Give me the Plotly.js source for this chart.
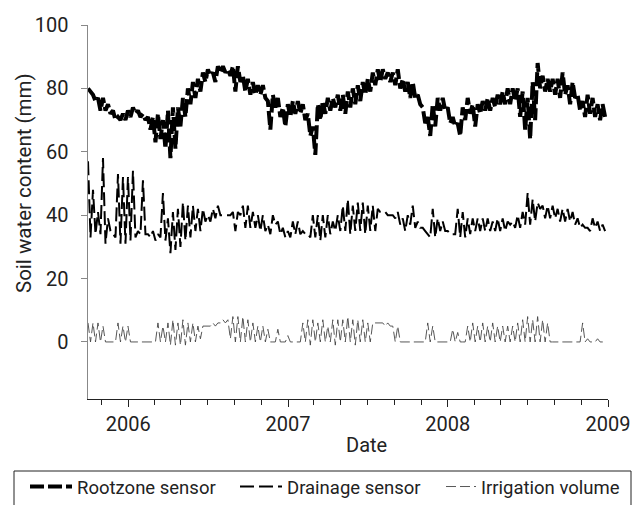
<!DOCTYPE html>
<html>
<head>
<meta charset="utf-8">
<script src="https://cdn.plot.ly/plotly-3.0.1.min.js"></script>
<style>html,body{margin:0;padding:0;background:#fff;}#chart{width:640px;height:505px;}</style>
</head>
<body>
<div id="chart"></div>
<script>
// Readings, in time order (approx. every 5.7 days from 2005-10-01)
const seriesStart = '2005-10-01';
const stepDays = 5.707;

const rootzoneSensor = [
 80,79, 78,76, 77,73, 77,73, 75,72, 73,70, 71,70, 72,70, 73,71, 74,72,
 73,71, 72,70, 71,67, 71,63, 72,64, 70,61, 73,58, 74,61, 74,68, 77,71,
 80,75, 82,77, 83,79, 85,82, 86,84, 85,82, 87,85, 87,85, 86,84, 87,79,
 87,82, 84,79, 83,78, 82,78, 81,78, 81,77, 76,67, 78,74, 77,71, 74,68,
 75,71, 76,72, 76,72, 75,70, 72,65, 68,59, 75,70, 76,72, 77,73, 77,74,
 78,73, 78,72, 79,74, 80,75, 81,76, 82,78, 83,79, 85,81, 86,82, 86,83,
 85,82, 85,81, 86,80, 83,79, 82,77, 82,77, 78,75, 74,69, 71,65, 75,68,
 77,73, 77,73, 74,69, 71,68, 69,65, 74,70, 77,72, 75,68, 75,72, 76,73,
 77,73, 77,74, 78,75, 79,75, 80,75, 80,76, 80,71, 79,67, 77,64, 82,70,
 88,80, 84,79, 83,79, 83,78, 83,77, 85,78, 81,75, 82,77, 78,73, 76,71,
 78,72, 77,71, 75,70, 75,71
];

const drainageSensor = [
 57,33, 48,34, 41,34, 58,31, 39,35, 34,33, 53,31, 52,31, 52,32, 54,33,
 35,34, 51,34, 34,33, 35,32, 34,33, 47,32, 39,28, 41,29, 42,30, 44,32,
 43,33, 43,35, 42,35, 42,38, 40,38, 42,39, 43,40, 40,40, 40,40, 41,35,
 41,40, 43,36, 43,36, 41,36, 40,35, 40,35, 37,34, 40,37, 38,34, 36,33,
 35,33, 38,34, 38,34, 35,34, 34,33, 40,33, 40,32, 40,33, 40,34, 38,35,
 40,35, 43,35, 45,34, 43,35, 44,35, 44,34, 43,35, 43,35, 42,41, 41,41,
 40,40, 40,39, 41,37, 39,35, 40,37, 43,36, 38,36, 36,35, 34,33, 42,33,
 39,35, 38,35, 35,34, 34,34, 42,33, 41,33, 39,34, 39,35, 39,35, 39,35,
 39,35, 38,35, 39,35, 39,35, 38,37, 38,36, 40,36, 41,37, 47,37, 45,38,
 44,42, 43,39, 43,39, 43,39, 42,38, 42,38, 42,38, 41,37, 39,36, 37,36,
 36,35, 39,36, 38,35, 37,35
];

const irrigationVolume = [
 6,0, 6,0, 6,0, 5,0, 0,0, 0,0, 6,0, 5,0, 5,0, 0,0,
 0,0, 0,0, 0,0, 0,0, 6,0, 5,0, 6,-1, 7,-1, 6,-1, 7,-1,
 6,0, 6,0, 5,1, 5,5, 5,5, 6,5, 6,6, 7,6, 7,1, 8,0,
 8,0, 8,0, 7,0, 6,0, 5,0, 5,0, 4,0, 0,0, 4,0, 0,0,
 2,0, 0,0, 0,0, 6,0, 7,-1, 7,0, 6,0, 7,0, 5,0, 7,-1,
 7,0, 7,0, 8,0, 7,-1, 7,0, 7,0, 6,0, 6,6, 6,6, 6,5,
 6,5, 5,0, 5,0, 0,0, 0,0, 0,0, 0,0, 0,0, 6,0, 5,0,
 0,0, 0,0, 0,0, 4,0, 3,0, 0,0, 5,0, 6,0, 5,0, 6,0,
 5,0, 6,0, 5,0, 5,0, 5,0, 5,0, 6,0, 7,0, 8,0, 7,0,
 8,0, 7,0, 6,0, 0,0, 0,0, 0,0, 0,0, 0,0, 0,0, 6,0,
 1,0, 0,0, 1,0, 0,0
];

const seriesNames = ['Rootzone sensor', 'Drainage sensor', 'Irrigation volume'];
const yTickValues = [0, 20, 40, 60, 80, 100];
const yTitle = 'Soil water content (mm)';
const xTitle = 'Date';

function datesFor(n) {
  const t0 = new Date(seriesStart + 'T00:00:00Z').getTime();
  const out = [];
  for (let i = 0; i < n; i++) {
    out.push(new Date(t0 + i * stepDays * 86400000).toISOString().slice(0, 19).replace('T', ' '));
  }
  return out;
}

const FONT = 'Roboto, sans-serif';

const traces = [
  {x: datesFor(rootzoneSensor.length), y: rootzoneSensor, name: seriesNames[0], mode: 'lines',
   legend: 'legend', line: {color: '#000', width: 4, dash: '14px,4px'}},
  {x: datesFor(drainageSensor.length), y: drainageSensor, name: seriesNames[1], mode: 'lines',
   legend: 'legend', line: {color: '#000', width: 2, dash: '14px,5px'}},
  {x: datesFor(irrigationVolume.length), y: irrigationVolume, name: seriesNames[2], mode: 'lines',
   legend: 'legend2', line: {color: '#444', width: 0.9, dash: '10px,4px'}}
];

const L = 88, R = 608, T = 25, B = 399, W = 640, H = 505;
const px = v => (v - L) / (R - L);
const py = v => (B - v) / (B - T);

const legendFont = {family: FONT, size: 18.5, color: '#222'};

const layout = {
  width: W, height: H,
  margin: {l: L, r: W - R, t: T, b: H - B, pad: 0, autoexpand: false},
  paper_bgcolor: '#fff', plot_bgcolor: '#fff',
  font: {family: FONT, size: 20, color: '#222'},
  showlegend: true,
  xaxis: {
    type: 'date', range: ['2005-10-01', '2009-01-01'],
    showline: true, linecolor: '#222', linewidth: 1,
    ticks: 'outside', ticklen: 7, tickcolor: '#222',
    tick0: '2006-01-01', dtick: 'M12', tickformat: '%Y',
    minor: {tick0: '2005-11-01', dtick: 'M2', ticks: 'outside', ticklen: 5, tickcolor: '#222', showgrid: false},
    showgrid: false, zeroline: false,
    tickfont: {family: FONT, size: 20, color: '#222'}
  },
  yaxis: {
    range: [-18, 100], tickvals: yTickValues,
    showline: true, linecolor: '#888', linewidth: 1.5,
    ticks: 'outside', ticklen: 6, tickcolor: '#888',
    ticklabelstandoff: 8,
    showgrid: false, zeroline: false,
    tickfont: {family: FONT, size: 20, color: '#222'}
  },
  annotations: [
    {text: xTitle, xref: 'paper', yref: 'paper', x: px(366), y: py(445), xanchor: 'center', yanchor: 'middle',
     showarrow: false, font: {family: FONT, size: 20, color: '#222'}},
    {text: yTitle, xref: 'paper', yref: 'paper', x: px(24), y: py(183), xanchor: 'center', yanchor: 'middle',
     textangle: -90, showarrow: false, font: {family: FONT, size: 20.5, color: '#222'}}
  ],
  shapes: [
    // legend frame (open at the bottom edge of the image, as in the reference)
    {type: 'rect', xref: 'paper', yref: 'paper', x0: px(14), x1: px(631), y0: py(471), y1: py(515),
     line: {color: '#222', width: 1}, fillcolor: 'rgba(0,0,0,0)', layer: 'above'}
  ],
  legend: {
    orientation: 'h', xref: 'paper', yref: 'paper',
    x: px(25), y: py(468), xanchor: 'left', yanchor: 'top',
    borderwidth: 0, bgcolor: 'rgba(0,0,0,0)', font: legendFont,
    itemwidth: 42, entrywidth: 153, entrywidthmode: 'pixels'
  },
  legend2: {
    orientation: 'h', xref: 'paper', yref: 'paper',
    x: px(441), y: py(468), xanchor: 'left', yanchor: 'top',
    borderwidth: 0, bgcolor: 'rgba(0,0,0,0)', font: legendFont,
    itemwidth: 30
  }
};

Plotly.newPlot('chart', traces, layout, {displayModeBar: false, staticPlot: true});
</script>
</body>
</html>
